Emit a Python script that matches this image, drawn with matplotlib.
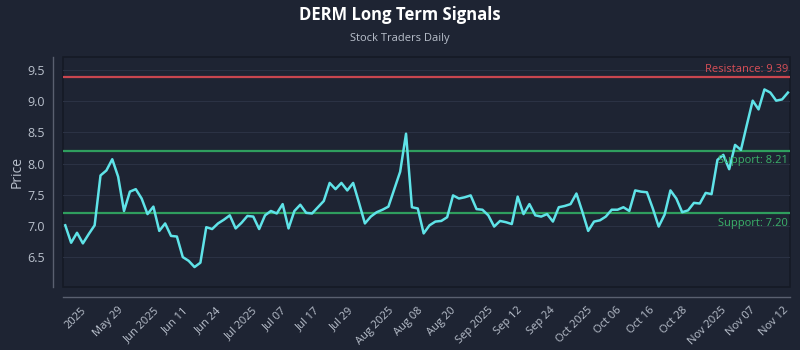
import numpy as np
import matplotlib
matplotlib.use('Agg')
import matplotlib.pyplot as plt

# Price series (one value per trading day)
prices = [
    7.01, 6.73, 6.89, 6.72, 6.87, 7.01, 7.81, 7.89, 8.07, 7.79,
    7.24, 7.55, 7.59, 7.44, 7.19, 7.31, 6.92, 7.04, 6.84, 6.83,
    6.50, 6.44, 6.34, 6.41, 6.98, 6.95, 7.04, 7.10, 7.17, 6.96,
    7.05, 7.16, 7.15, 6.95, 7.17, 7.24, 7.20, 7.35, 6.96, 7.24,
    7.34, 7.21, 7.20, 7.30, 7.40, 7.69, 7.59, 7.69, 7.57, 7.69,
    7.37, 7.04, 7.15, 7.22, 7.26, 7.31, 7.59, 7.87, 8.48, 7.30,
    7.28, 6.88, 7.01, 7.07, 7.08, 7.14, 7.49, 7.44, 7.46, 7.49,
    7.27, 7.26, 7.17, 6.99, 7.08, 7.06, 7.03, 7.47, 7.19, 7.35,
    7.17, 7.15, 7.19, 7.07, 7.30, 7.32, 7.35, 7.52, 7.23, 6.92,
    7.07, 7.09, 7.15, 7.26, 7.26, 7.30, 7.24, 7.57, 7.55, 7.54,
    7.28, 6.99, 7.18, 7.57, 7.44, 7.22, 7.25, 7.37, 7.36, 7.53,
    7.51, 8.06, 8.14, 7.91, 8.30, 8.22, 8.62, 9.01, 8.87, 9.19,
    9.14, 9.01, 9.03, 9.14,
]

tick_labels = [
    '2025', 'May 29', 'Jun 2025', 'Jun 11', 'Jun 24', 'Jul 2025', 'Jul 07',
    'Jul 17', 'Jul 29', 'Aug 2025', 'Aug 08', 'Aug 20', 'Sep 2025', 'Sep 12',
    'Sep 24', 'Oct 2025', 'Oct 06', 'Oct 16', 'Oct 28', 'Nov 2025', 'Nov 07',
    'Nov 12',
]

resistance = 9.39
supports = [8.21, 7.20]

# Colours
bg = '#1e2433'
grid_col = '#2b3244'
text_col = '#b9c0cc'
line_col = '#5fe3e8'
res_col = '#c8464f'
sup_col = '#2f9e5e'

plt.rcParams['font.family'] = ['Open Sans', 'DejaVu Sans']

fig = plt.figure(figsize=(8, 3.5), dpi=100, facecolor=bg)
ax = fig.add_axes([0.079, 0.18, 0.9085, 0.657])
ax.set_facecolor(bg)

x = np.arange(len(prices))
ax.plot(x, prices, color=line_col, linewidth=1.8, zorder=3)

ax.axhline(resistance, color=res_col, linewidth=1.6, zorder=2)
for s in supports:
    ax.axhline(s, color=sup_col, linewidth=1.6, zorder=2)

last = x[-1]
ax.text(last, resistance + 0.03, f'Resistance: {resistance:.2f}', color='#d94f57',
        fontsize=8, ha='right', va='bottom', zorder=4)
for s in supports:
    ax.text(last, s - 0.07, f'Support: {s:.2f}', color='#3bb26a',
            fontsize=8, ha='right', va='top', zorder=4)

ax.set_xlim(-0.35, len(prices) - 0.65)
ax.set_ylim(6.02, 9.71)
ax.set_yticks([6.5, 7.0, 7.5, 8.0, 8.5, 9.0, 9.5])

ax.grid(axis='y', color=grid_col, linewidth=0.8)
ax.grid(axis='x', visible=False)
ax.set_axisbelow(True)

ax.tick_params(colors=text_col, length=0, pad=6)
ax.tick_params(axis='x', labelsize=8, labelrotation=45)
ax.tick_params(axis='y', labelsize=9)

ticks = np.linspace(1.7, 120.7, len(tick_labels))
ax.set_xticks(ticks)
ax.set_xticklabels(tick_labels, rotation=45, ha='right')

for side in ['top', 'right']:
    ax.spines[side].set_visible(False)
for side in ['left', 'bottom']:
    ax.spines[side].set_position(('outward', 7))
    ax.spines[side].set_color('#5a6070')
    ax.spines[side].set_linewidth(1)

ax.patch.set_edgecolor('#151a25')
ax.patch.set_linewidth(1.2)

ax.set_ylabel('Price', color=text_col, fontsize=10, labelpad=2)

fig.text(0.5, 0.957, 'DERM Long Term Signals', color='white', fontsize=12,
         fontweight='bold', ha='center', va='center')
fig.text(0.5, 0.89, 'Stock Traders Daily', color=text_col, fontsize=8,
         ha='center', va='center')

fig.savefig('out.png', dpi=100, facecolor=bg)
